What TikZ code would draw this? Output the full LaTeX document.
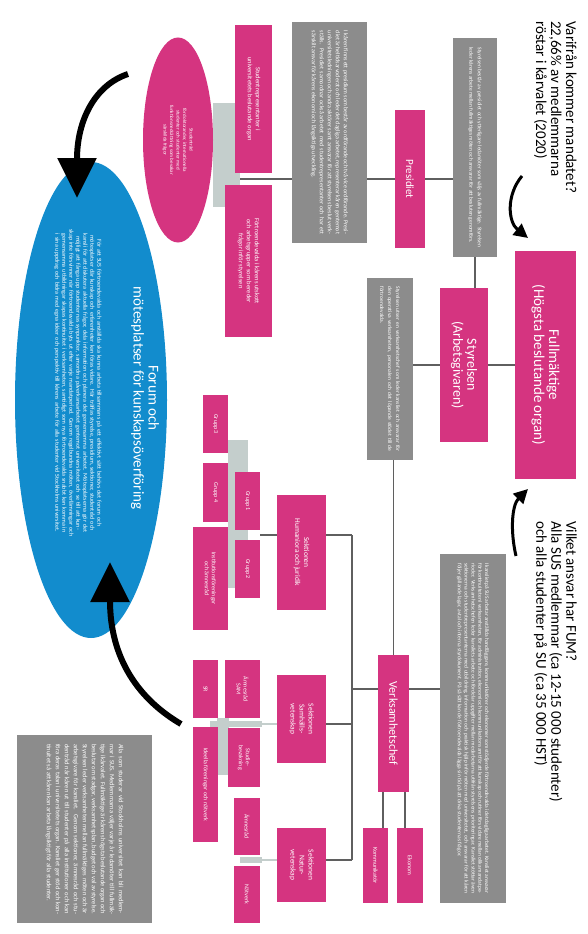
\documentclass[tikz,border=0pt]{standalone}
\usepackage{fontspec}
\setmainfont{Carlito}
\usetikzlibrary{shapes.geometric,arrows.meta}

\definecolor{fumpink}{RGB}{213,52,128}
\definecolor{fumgray}{RGB}{140,140,140}
\definecolor{fumblue}{RGB}{18,140,205}
\definecolor{fumlight}{RGB}{196,206,204}
\definecolor{fumline}{RGB}{95,95,95}

\tikzstyle{pinkbox}=[rotate=-90, fill=fumpink, text=white, align=center,
                     inner sep=1pt]
\tikzstyle{graybox}=[rotate=-90, fill=fumgray, text=white, align=justify,
                     inner sep=1pt]
\tikzstyle{asktext}=[rotate=-90, anchor=north west, align=left, inner sep=0pt,
                     font=\fontsize{15}{15}\selectfont]
\tikzstyle{link}=[draw=fumline, line width=1.2pt]
\tikzstyle{sublink}=[draw=fumlight, line width=2pt]
\tikzstyle{backbar}=[fill=fumlight]
\tikzstyle{bigarrow}=[line width=6pt, -{Triangle[length=40pt,width=38pt]}]
\tikzstyle{smallarrow}=[line width=3pt, -{Triangle[length=14pt,width=14pt]}]

\begin{document}
\begin{tikzpicture}[x=1pt,y=-1pt]
  \useasboundingbox (0,0) rectangle (588,934);

  % questions
  \node[asktext] (mandat) at (577,21) {Varifrån kommer mandatet?\\22,66\% av medlemmarna\\röstar i kårvalet (2020)};
  \node[asktext] (ansvar) at (577,521) {Vilket ansvar har FUM?\\Alla SUS medlemmar (ca 12-15 000 studenter)\\och alla studenter på SU (ca 35 000 HST)};

  % light bars behind the small boxes
  \fill[backbar] (213,103) rectangle (240,207);
  \fill[backbar] (228,440) rectangle (248,588);
  \fill[backbar] (217,718) rectangle (229,775);
  \fill[backbar] (210,721) rectangle (262,727);
  \fill[backbar] (240,857) rectangle (262,863);

  % top of the organisation
  \node[pinkbox, minimum width=228pt, minimum height=61pt,
        font=\fontsize{15}{15}\selectfont] (fum) at (545.5,365) {Fullmäktige\\(Högsta beslutande organ)};
  \node[pinkbox, minimum width=154pt, minimum height=48pt,
        font=\fontsize{14}{14}\selectfont] (styrelsen) at (464,365) {Styrelsen\\(Arbetsgivaren)};
  \node[graybox, minimum width=219pt, minimum height=44pt, text width=200pt,
        font=\fontsize{5.5}{8.5}\selectfont] (styrinfo) at (475,147.5) {Styrelsen består av presidiet och ytterligare ledamöter som väljs av fullmäktige. Styrelsen leder kårens arbete mellan fullmäktiges möten och ansvarar för att besluten genomförs.};
  \node[pinkbox, minimum width=138pt, minimum height=30pt,
        font=\fontsize{11}{11}\selectfont] (presidiet) at (410,179) {Presidiet};
  \node[graybox, minimum width=221pt, minimum height=75pt, text width=203pt,
        font=\fontsize{6}{8}\selectfont] (presinfo) at (329.5,132.5) {I kåren finns ett presidium som består av ordförande och två vice ordförande. Presidiet är heltidsarvoderat och leder det dagliga arbetet, representerar kåren gentemot universitetsledningen och andra aktörer samt ansvarar för att styrelsens beslut verkställs. Presidiet samordnar också arbetet med studentrepresentanter och har ett särskilt ansvar för kårens ekonomi och långsiktiga utveckling.};
  \node[pinkbox, minimum width=148pt, minimum height=37pt,
        font=\fontsize{6.5}{8}\selectfont] (repr) at (253.5,99) {Studentrepresentanter i\\universitetets beslutande organ};
  \node[pinkbox, minimum width=152pt, minimum height=47pt,
        font=\fontsize{6.5}{8}\selectfont] (utskott) at (248.5,261) {Förtroendevalda i kårens utskott\\och arbetsgrupper som bereder\\frågor inför styrelsen};
  \node[pinkbox, ellipse, minimum width=205pt, minimum height=70pt,
        font=\fontsize{5}{6.5}\selectfont] (studentrad) at (178,140) {Studentråd\\för doktorander, internationella\\studenter och studenter med\\funktionsnedsättning som bevakar\\särskilda frågor};

  % forum
  \node[ellipse, rotate=-90, fill=fumblue, minimum width=476pt,
        minimum height=152pt] (forum) at (91,400) {};
  \node[rotate=-90, text=white, align=center,
        font=\fontsize{15}{15}\selectfont] (forumtitel) at (145,398) {Forum och\\mötesplatser för kunskapsöverföring};
  \node[rotate=-90, text=white, align=center, text width=335pt,
        font=\fontsize{6}{7}\selectfont] (forumtext) at (78,383) {För att SUS förtroendevalda och anställda ska kunna arbeta tillsammans på ett effektivt sätt behövs det forum och mötesplatser där kunskap och erfarenheter kan föras vidare. Här träffas styrelse, presidium, sektioner, studentråd och kansli för att diskutera aktuella frågor, dela information och planera det gemensamma arbetet. Mötesplatserna gör det möjligt att fånga upp studenternas synpunkter, samordna påverkansarbetet gentemot universitetet och se till att kunskap inte försvinner när förtroendevalda byts ut efter varje mandatperiod. Genom regelbundna möten, överlämningar och gemensamma utbildningar skapas kontinuitet i verksamheten, samtidigt som nya förtroendevalda snabbt kan komma in i sina uppdrag och bidra med egna idéer och perspektiv till kårens arbete för alla studenter vid Stockholms universitet.};

  % kansliet
  \node[graybox, minimum width=182pt, minimum height=46pt, text width=165pt,
        font=\fontsize{5.5}{8}\selectfont] (kanslinfo) at (390,369) {Styrelsen utser en verksamhetschef som leder kansliet och ansvarar för den operativa verksamheten, personalen och det löpande stödet till de förtroendevalda.};
  \node[pinkbox, minimum width=137pt, minimum height=31pt,
        font=\fontsize{12}{12}\selectfont] (vchef) at (393.5,723.5) {Verksamhetschef};
  \node[graybox, minimum width=349pt, minimum height=66pt, text width=330pt,
        font=\fontsize{5.5}{6.8}\selectfont] (vinfo) at (473,728.5) {I kansliet på SUS arbetar anställda handläggare, kommunikatörer och ekonomer som stödjer de förtroendevalda i det dagliga arbetet. Kansliet ansvarar för kontinuiteten i verksamheten, för administration, ekonomi och kommunikation samt för att kunskap och rutiner förs vidare mellan olika mandatperioder. Verksamhetschefen leder kansliets arbete och fördelar uppgifter mellan medarbetarna utifrån styrelsens prioriteringar. Kansliet stöttar även sektionerna och studentrepresentanterna med utbildning, information och praktisk hjälp inför möten med universitetet, och ansvarar för att kåren följer gällande lagar, avtal och interna styrdokument. På så sätt kan de förtroendevalda lägga sin tid på att driva studenternas frågor.};
  \node[pinkbox, minimum width=75pt, minimum height=25pt,
        font=\fontsize{6}{7}\selectfont] (kommunikator) at (375.5,865.5) {Kommunikatör};
  \node[pinkbox, minimum width=75pt, minimum height=26pt,
        font=\fontsize{6}{7}\selectfont] (ekonom) at (410,865.5) {Ekonom};

  % sektionerna
  \node[pinkbox, minimum width=115pt, minimum height=49pt,
        font=\fontsize{7.5}{9}\selectfont] (sekhum) at (301.5,552.5) {Sektionen\\Humaniora och juridik};
  \node[pinkbox, minimum width=88pt, minimum height=49pt,
        font=\fontsize{7.5}{9}\selectfont] (seksam) at (301.5,719) {Sektionen\\Samhälls-\\vetenskap};
  \node[pinkbox, minimum width=74pt, minimum height=49pt,
        font=\fontsize{7.5}{9}\selectfont] (seknat) at (301.5,865) {Sektionen\\Natur-\\vetenskap};

  \node[pinkbox, minimum width=58pt, minimum height=25pt,
        font=\fontsize{6}{7}\selectfont] (grupp1) at (247.5,501) {Grupp 1};
  \node[pinkbox, minimum width=58pt, minimum height=25pt,
        font=\fontsize{6}{7}\selectfont] (grupp2) at (247.5,569) {Grupp 2};
  \node[pinkbox, minimum width=58pt, minimum height=25pt,
        font=\fontsize{6}{7}\selectfont] (grupp3) at (215.5,424) {Grupp 3};
  \node[pinkbox, minimum width=59pt, minimum height=25pt,
        font=\fontsize{6}{7}\selectfont] (grupp4) at (215.5,492.5) {Grupp 4};
  \node[pinkbox, minimum width=103pt, minimum height=35pt,
        font=\fontsize{6}{7}\selectfont] (instfor) at (210.5,578.5) {Institutionsföreningar\\och ämnesråd};

  \node[pinkbox, minimum width=58pt, minimum height=35pt,
        font=\fontsize{6}{7}\selectfont] (amnesrad) at (242.5,689) {Ämnesråd\\SAM};
  \node[pinkbox, minimum width=59pt, minimum height=32pt,
        font=\fontsize{6}{7}\selectfont] (studiebev) at (244,757.5) {Studie-\\bevakning};
  \node[pinkbox, minimum width=58pt, minimum height=25pt,
        font=\fontsize{6}{7}\selectfont] (sr) at (205.5,689) {SR};
  \node[pinkbox, minimum width=115pt, minimum height=25pt,
        font=\fontsize{6}{7}\selectfont] (foreningar) at (205.5,784.5) {Ideella föreningar och nätverk};

  \node[pinkbox, minimum width=57pt, minimum height=26pt,
        font=\fontsize{6}{7}\selectfont] (natamne) at (247,826.5) {Ämnesråd};
  \node[pinkbox, minimum width=57pt, minimum height=26pt,
        font=\fontsize{6}{7}\selectfont] (natverk) at (247,894.5) {Nätverk};

  % the box at the bottom
  \node[graybox, minimum width=188pt, minimum height=135pt, text width=170pt,
        font=\fontsize{6.5}{9}\selectfont] (medlem) at (84.5,829) {Alla som studerar vid Stockholms universitet kan bli medlemmar i SUS. Medlemmarna väljer varje år ledamöter till fullmäktige i kårvalet. Fullmäktige är kårens högsta beslutande organ och beslutar om stadgar, verksamhetsplan, budget och val av styrelse. Styrelsen leder verksamheten mellan fullmäktiges möten och är arbetsgivare för kansliet. Genom sektioner, ämnesråd och studentråd når kåren ut till studenter på alla institutioner och kan föra deras talan i universitetets organ. Kansliet ger stöd och kontinuitet så att kåren kan arbeta långsiktigt för alla studenter.};

  % connectors
  \coordinate (fork) at (240,179);
  \coordinate (vbus) at (352,689);
  \coordinate (j1) at (352,535);
  \coordinate (j2) at (352,724);
  \coordinate (j3) at (352,860);
  \coordinate (k1) at (383,792);
  \coordinate (k2) at (405,792);

  \draw[link] (styrelsen) -- (fum);
  \draw[link] (styrinfo) -- (styrinfo |- styrelsen.west);
  \draw[link] (presidiet) -- (presidiet -| styrinfo.south);
  \draw[link] (presidiet) -- (presidiet -| presinfo.north);
  \draw[link] (presidiet -| presinfo.south) -- (fork);
  \draw[link] (styrelsen) -- (styrelsen -| kanslinfo.north);
  \draw[link] (vchef) -- (vchef |- kanslinfo.east);
  \draw[link] (vbus -| vchef.north) -- (vbus -| vinfo.south);
  \draw[link] (vbus) -- (vbus -| vchef.south);
  \draw[link] (j1) -- (j3);
  \draw[link] (j1) -- (j1 -| sekhum.north);
  \draw[link] (j2) -- (j2 -| seksam.north);
  \draw[link] (j3) -- (j3 -| seknat.north);
  \draw[link] (k1) -- (k1 |- kommunikator.west);
  \draw[link] (k2) -- (k2 |- ekonom.west);
  \draw[link] (j1 -| sekhum.south) -- (j1 -| grupp1.north);
  \draw[sublink] (j2 -| seksam.south) -- (j2 -| amnesrad.north);
  \draw[sublink] (j3 -| seknat.south) -- (j3 -| natamne.north);

  % arrows
  \coordinate (a1s) at (522,176);
  \coordinate (a1e) at (528,238);
  \coordinate (a2s) at (516,556);
  \coordinate (a2e) at (528,489);
  \coordinate (a3s) at (128,74);
  \coordinate (a3e) at (77,198);
  \coordinate (a4s) at (181,724);
  \coordinate (a4e) at (110,562);
  \draw[smallarrow] (a1s) .. controls (506,195) and (508,222) .. (a1e);
  \draw[smallarrow] (a2s) .. controls (510,530) and (512,505) .. (a2e);
  \draw[bigarrow] (a3s) .. controls (95,85) and (77,120) .. (a3e);
  \draw[bigarrow] (a4s) .. controls (140,700) and (110,660) .. (a4e);
\end{tikzpicture}
\end{document}
